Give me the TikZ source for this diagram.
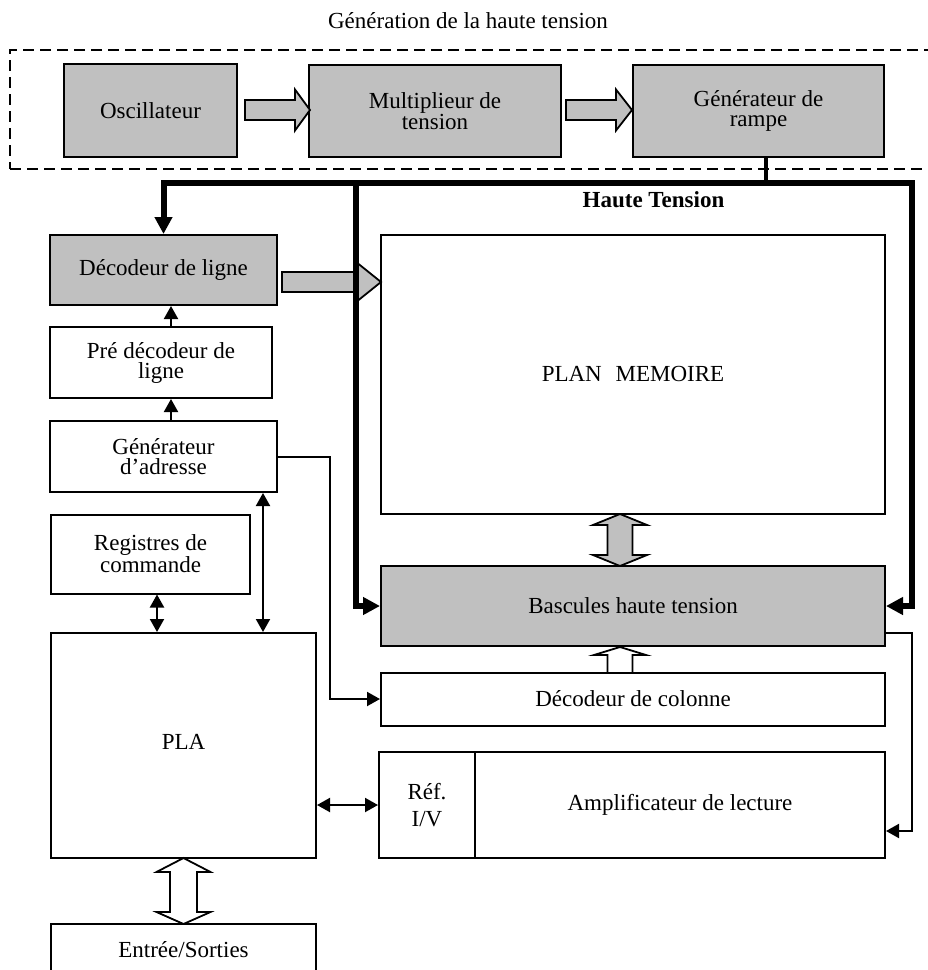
\documentclass[tikz,border=0pt]{standalone}
\usepackage{fontspec}
\setmainfont{Liberation Serif}
\usetikzlibrary{arrows.meta,calc}
\definecolor{boxgray}{HTML}{C0C0C0}
\newcommand\dfont{\fontsize{23pt}{20pt}\selectfont}
\newcommand\rfont{\fontsize{23pt}{27pt}\selectfont}
\tikzset{
  box/.style={draw, line width=2pt, inner sep=0pt, align=center, font=\dfont},
  gbox/.style={box, fill=boxgray},
  thinline/.style={line width=2pt},
  stip/.style={-{Triangle[length=13pt,width=14pt]}},
  dtip/.style={{Triangle[length=13pt,width=14pt]}-{Triangle[length=13pt,width=14pt]}},
  bus/.style={line width=6pt, line join=miter},
  btip/.style={-{Triangle[length=17pt,width=17pt]}},
  harrow/.style={draw, line width=1.8pt, fill=boxgray, line join=miter},
  warrow/.style={draw, line width=1.8pt, fill=white, line join=miter},
}
\begin{document}
\begin{tikzpicture}[x=1pt,y=-1pt]
\useasboundingbox (0,0) rectangle (928,970);
\fill[white] (0,0) rectangle (928,970);
\clip (0,0) rectangle (928,970);

% title and group
\node[anchor=base, font=\dfont, inner sep=0pt] (title) at (468,28) {Génération de la haute tension};
\node[draw, line width=2pt, dash pattern=on 11pt off 6pt, minimum width=930, minimum height=119, inner sep=0pt] (hvgroup) at (475,109.5) {};

% top row
\node[gbox, minimum width=173, minimum height=93] (osc) at (150.5,110.5) {Oscillateur};
\node[gbox, minimum width=252, minimum height=92] (mult) at (435,111) {Multiplieur de\\tension};
\node[gbox, minimum width=251, minimum height=92] (rampe) at (758.5,111) {Générateur de\\rampe};

% left column
\node[gbox, minimum width=227, minimum height=70] (declig) at (163.5,270) {Décodeur de ligne};
\node[box, minimum width=222, minimum height=71] (predec) at (161,362.5) {Pré décodeur de\\ligne};
\node[box, minimum width=227, minimum height=71] (genadr) at (163.5,456.5) {Générateur\\d’adresse};
\node[box, minimum width=199, minimum height=79] (reg) at (150.5,554) {Registres de\\commande};
\node[box, minimum width=265, minimum height=225] (pla) at (183.5,745.5) {};
\node[font=\dfont, inner sep=0pt] (plat) at (183.5,742) {PLA};
\node[box, minimum width=265, minimum height=66] (es) at (183.5,957) {};
\node[font=\dfont, inner sep=0pt, anchor=base] (est) at (183.5,957) {Entrée/Sorties};

% right column
\node[box, minimum width=504, minimum height=279] (plan) at (633,374) {PLAN\hspace{0.6em}MEMOIRE};
\node[gbox, minimum width=504, minimum height=80] (basc) at (633,606) {Bascules haute tension};
\node[box, minimum width=504, minimum height=53] (deccol) at (633,699) {Décodeur de colonne};
\node[box, minimum width=96, minimum height=106, font=\rfont] (ref) at (427,805) {Réf.\\I/V};
\node[box, minimum width=410, minimum height=106] (ampl) at (680,805) {Amplificateur de lecture};

\node[font=\bfseries\dfont, anchor=base, inner sep=0pt] (ht) at (653.5,207) {Haute Tension};

% hollow arrows
\draw[harrow] (245,100) -- (295,100) -- (295,89.5) -- (310,110) -- (295,130.5) -- (295,120) -- (245,120) -- cycle;
\draw[harrow] (566,100) -- (616,100) -- (616,89.5) -- (632,110) -- (616,130.5) -- (616,120) -- (566,120) -- cycle;
\draw[harrow] (282,272) -- (358,272) -- (358,263.5) -- (381,282) -- (358,300.5) -- (358,292) -- (282,292) -- cycle;
\draw[harrow] (620,514) -- (647,525) -- (632.5,525) -- (632.5,555) -- (647,555) -- (620,566) -- (593,555) -- (607.5,555) -- (607.5,525) -- (593,525) -- cycle;
\draw[warrow] (620,647) -- (646,655) -- (632.5,655) -- (632.5,673) -- (607.5,673) -- (607.5,655) -- (594,655) -- cycle;
\draw[warrow] (183.5,858) -- (210.5,872) -- (197,872) -- (197,912) -- (210.5,912) -- (183.5,924) -- (156.5,912) -- (170,912) -- (170,872) -- (156.5,872) -- cycle;

% high-voltage bus
\coordinate (hv) at (766,183);
\coordinate (hvl) at (356,183);
\draw[line width=4pt] ([xshift=7.5pt]rampe.south) -- ([yshift=3pt]hv);
\draw[bus, btip] (hv) -| (declig.north);
\draw[bus, btip] (hv) -| ($(basc.east)+(26,0)$) -- (basc.east);
\draw[bus, btip] (hvl) |- (basc.west);

% thin connectors
\coordinate (xa) at (171,0);
\coordinate (xb) at (263,0);
\coordinate (xc) at (157,0);
\draw[thinline, stip] (predec.north -| xa) -- (declig.south -| xa);
\draw[thinline, stip] (genadr.north -| xa) -- (predec.south -| xa);
\draw[thinline, dtip] (genadr.south -| xb) -- (pla.north -| xb);
\draw[thinline, dtip] (reg.south -| xc) -- (pla.north -| xc);
\draw[thinline, stip] (genadr.east) -- ++(52,0) |- (deccol.west);
\draw[thinline, stip] ([yshift=-27pt]basc.east) -- ++(26,0) |- ([yshift=-26pt]ampl.east);
\draw[thinline, dtip] (pla.east |- ref.west) -- (ref.west);
\end{tikzpicture}
\end{document}
